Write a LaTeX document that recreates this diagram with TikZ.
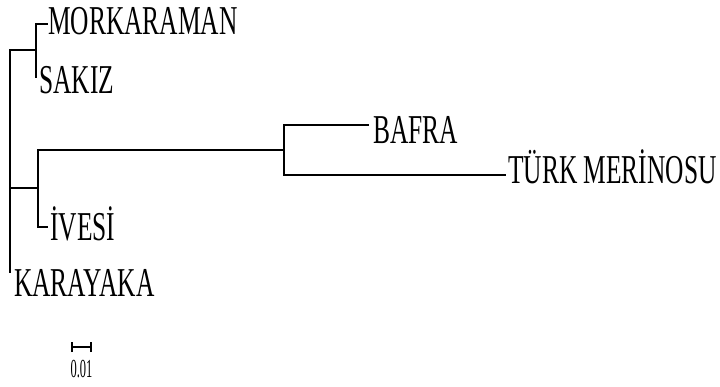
\documentclass[tikz,border=0pt]{standalone}
\usepackage{fontspec}
\newfontfamily\leaffont[FakeStretch=0.62]{Liberation Serif}
\newfontfamily\barfont[FakeStretch=0.48]{Liberation Serif}
\begin{document}
\begin{tikzpicture}[x=1pt,y=-1pt,
  branch/.style={line width=1.3pt,line cap=rect},
  scalebar/.style={line width=1.2pt},
  leaf/.style={anchor=base west,inner sep=0pt,font=\leaffont\fontsize{41}{41}\selectfont},
  barlabel/.style={anchor=base,inner sep=0pt,font=\barfont\fontsize{26}{26}\selectfont}]
\useasboundingbox[fill=white] (0,0) rectangle (720,386);

% internal nodes
\coordinate (root) at (10,50);
\coordinate (rootlow) at (10,272);
\coordinate (cA) at (36,50);
\coordinate (cB) at (38,188);
\coordinate (cC) at (284,150);

% branch tips
\coordinate (tMor) at (47,24);
\coordinate (tSak) at (36,77);
\coordinate (tIve) at (47,227);
\coordinate (tBaf) at (368,125);
\coordinate (tTur) at (505,175);

% leaf labels
\node[leaf] (Mor) at (48,34) {MORKARAMAN};
\node[leaf] (Sak) at (39,93) {SAKIZ};
\node[leaf] (Ive) at (50,240) {İVESİ};
\node[leaf] (Kar) at (14,296) {KARAYAKA};
\node[leaf] (Baf) at (373,143) {BAFRA};
\node[leaf] (Tur) at (508,183) {TÜRK MERİNOSU};

% root and its children
\draw[branch] (root) -- (rootlow);
\draw[branch] (root) -- (cA);
\draw[branch] (root |- cB) -- (cB);

% MORKARAMAN / SAKIZ clade
\draw[branch] (tMor) -| (cA) |- (tSak);

% clade with İVESİ
\draw[branch] (cB |- cC) -- (cC);
\draw[branch] (cC -| cB) |- (tIve);

% BAFRA / TÜRK MERİNOSU clade
\draw[branch] (tBaf) -| (cC) |- (tTur);

% scale bar
\coordinate (sL) at (72,347);
\coordinate (sR) at (91,347);
\draw[scalebar] (sL) -- (sR);
\draw[scalebar] ([yshift=-5pt]sL) -- ([yshift=5pt]sL);
\draw[scalebar] ([yshift=-5pt]sR) -- ([yshift=5pt]sR);
\node[barlabel] (sLab) at (81.5,377) {0.01};
\end{tikzpicture}
\end{document}
